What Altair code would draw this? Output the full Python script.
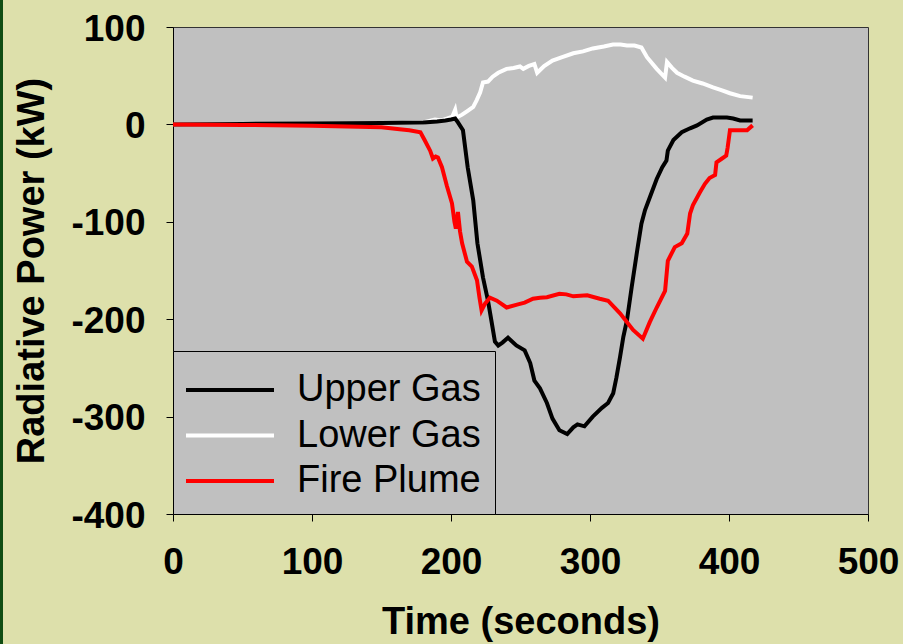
import altair as alt
import pandas as pd

# Radiative power of the three zones over the test (time in s, power in kW)
upper_t = [0, 50, 100, 150, 180, 190, 196, 200, 203, 205, 208.6, 212, 216, 219, 223,
           226.6, 229, 231.6, 234, 237, 241, 247, 253, 257, 260, 264, 269, 273, 278,
           283.6, 288, 291, 296, 302, 308.6, 313, 316.7, 319, 321.6, 324, 326.6, 330,
           334, 337, 339.6, 343, 348, 352, 355, 356, 360, 366, 372, 377, 384, 388.5,
           398.5, 403, 408, 417]
upper_v = [0, 0.5, 1, 1.5, 2, 3, 4, 5, 6, 2, -6, -44, -78, -122, -157,
           -181, -201, -223, -227, -224, -219, -227, -232, -245, -263, -271, -286, -302, -314,
           -318, -311, -308, -310, -300, -291, -286, -276, -260, -239, -218, -201, -167,
           -129, -102, -88, -75, -56, -44, -37, -27, -16, -8, -4, -1, 5, 7,
           7, 6, 4, 4]

lower_t = [0, 100, 149, 180, 188.5, 193, 197, 201, 203, 204, 208, 212, 216, 218.5, 221,
           223, 226.6, 230, 234, 240, 245, 249.6, 252, 256, 260, 262, 267, 273, 280, 288,
           295, 302, 310, 316.5, 322, 326.6, 332, 337, 341, 348, 354, 355.4, 359, 362.6,
           368, 374, 381, 388.5, 395, 400.7, 408, 417]
lower_v = [0, 0.5, 1, 2, 5, 4, 6, 8, 15, 7, 10, 14, 18, 25, 33,
           43, 44, 49, 53, 57, 58, 59.5, 57, 60, 62, 53, 60, 65.6, 69, 73,
           75, 78, 80, 82, 82, 81, 81, 79, 69, 57, 48, 64, 58, 53,
           49, 45, 42, 38, 35, 32, 29, 27.5]

fire_t = [0, 50, 100, 150, 163, 170, 178, 181, 185, 187, 189, 190.6, 193.5, 197, 200.7,
          202.5, 203.5, 205, 206.5, 208, 211.5, 215, 218.7, 220.5, 222, 224.5, 228, 233,
          240, 247.5, 253, 259, 264, 269, 278, 283, 288, 298, 307, 313, 321.6, 331, 338,
          343, 348, 354, 356, 361, 366, 370, 372, 374, 379, 382.7, 386, 390, 391, 395,
          398, 399, 400.7, 413, 417]
fire_v = [0, -0.5, -1.5, -3, -5, -6, -8, -16, -27, -35, -33, -34, -44, -63, -81,
          -100, -107, -90, -110, -122, -141, -146, -160, -178, -191, -184, -178, -181,
          -188, -185, -183, -179, -178, -177.5, -174, -174.5, -176.5, -175.5, -179, -181, -194, -211, -220,
          -203, -188, -171, -140, -126, -122, -112, -91.5, -83, -70, -61, -55, -52, -39, -35,
          -32, -24, -6, -6, -1]

series_names = ["Upper Gas", "Lower Gas", "Fire Plume"]
series_colors = ["#000000", "#ffffff", "#ff0000"]
x_ticks = [0, 100, 200, 300, 400, 500]
y_ticks = [-400, -300, -200, -100, 0, 100]

frames = [
    pd.DataFrame({"time": upper_t, "power": upper_v, "series": "Upper Gas"}),
    pd.DataFrame({"time": lower_t, "power": lower_v, "series": "Lower Gas"}),
    pd.DataFrame({"time": fire_t, "power": fire_v, "series": "Fire Plume"}),
]
data = pd.concat(frames, ignore_index=True)

FONT = "Liberation Sans"

x_enc = alt.X(
    "time:Q",
    scale=alt.Scale(domain=[0, 500], nice=False),
    axis=alt.Axis(
        values=x_ticks, title="Time (seconds)", labelExpr="'' + datum.value",
        labelFlush=False, labelOverlap=False, labelPadding=23, titlePadding=23,
    ),
)
y_enc = alt.Y(
    "power:Q",
    scale=alt.Scale(domain=[-400, 100], nice=False),
    axis=alt.Axis(
        values=y_ticks, title="Radiative Power (kW)", labelExpr="'' + datum.value",
        labelFlush=False, labelOverlap=False, labelPadding=21, titlePadding=19,
        labelOffset=2,
    ),
)
color_enc = alt.Color(
    "series:N",
    scale=alt.Scale(domain=series_names, range=series_colors),
    legend=alt.Legend(
        title=" ", titleFontSize=6, titlePadding=0,
        orient="bottom-left", offset=0, padding=14,
        fillColor="#c0c0c0", strokeColor="#000000",
        symbolType="M-4,0H4", symbolSize=484, symbolStrokeWidth=4,
        symbolOffset=24, labelOffset=48, rowPadding=7.5,
        labelFont=FONT, labelFontSize=38, labelColor="#000000", labelLimit=400,
    ),
)

# thin dark band along the left edge of the page
edge = alt.Chart(alt.Data(values=[{"k": 1}])).mark_rect(color="#0f4d12").encode(
    x=alt.value(-173), x2=alt.value(-170), y=alt.value(-27), y2=alt.value(617)
)

line = alt.Chart(data).mark_line(strokeWidth=4, clip=True)
layers = [
    line.transform_filter(alt.datum.series == name).encode(x=x_enc, y=y_enc, color=color_enc)
    for name in ["Lower Gas", "Upper Gas", "Fire Plume"]
]

chart = (
    alt.layer(edge, *layers)
    .properties(
        width=695, height=487,
        autosize=alt.AutoSizeParams(type="none"),
        padding={"left": 173, "top": 27, "right": 35, "bottom": 130},
    )
    .configure(background="#dde0ab")
    .configure_view(fill="#c0c0c0", stroke="#333333", strokeWidth=1)
    .configure_axis(
        grid=False, domainColor="#000000", domainWidth=1,
        tickColor="#000000", tickSize=7, tickWidth=1,
        labelFont=FONT, labelFontSize=37, labelFontWeight="bold", labelColor="#000000",
        titleFont=FONT, titleFontSize=38, titleFontWeight="bold", titleColor="#000000",
    )
)

chart.save("out.html", embed_options={"renderer": "svg", "actions": False})
